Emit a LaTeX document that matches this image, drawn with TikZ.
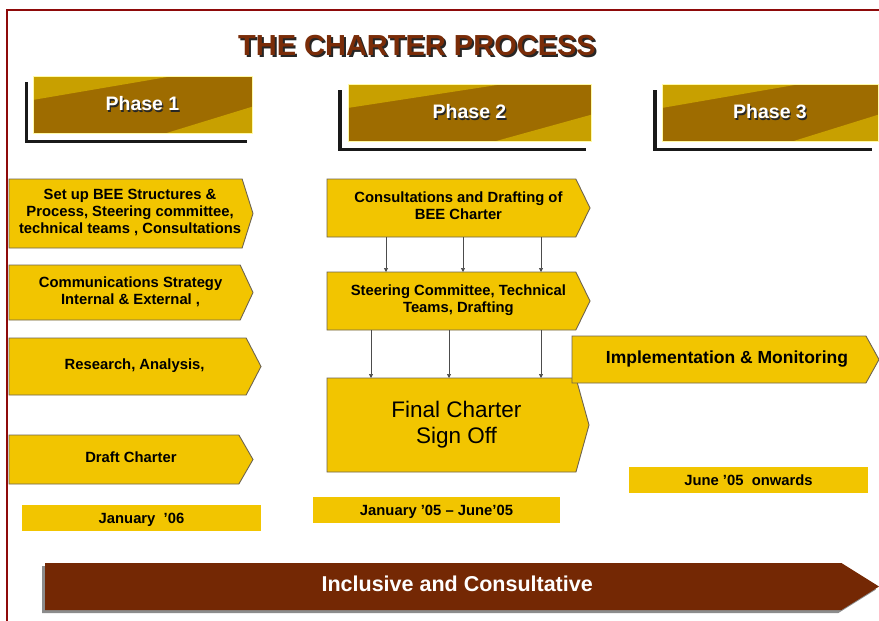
\documentclass[tikz,border=0pt]{standalone}
\usepackage{fontspec}
\setmainfont{Liberation Sans}
\usetikzlibrary{shapes.symbols,arrows.meta,calc,shadows}
\definecolor{chyellow}{HTML}{F2C500}
\definecolor{chedge}{HTML}{6E6450}
\definecolor{chbrown}{HTML}{742804}
\definecolor{chtitle}{HTML}{7A2C08}
\definecolor{chdark}{HTML}{9E6C00}
\definecolor{chlight}{HTML}{C8A000}
\definecolor{chframe}{HTML}{8E0A0A}
% text with a small dark copy under it
\newcommand{\dropshade}[2][1.2pt]{\makebox[0pt][l]{\raisebox{-#1}{\hspace{#1}\color{black!85}#2}}#2}
% centred lines, pushed right by the pointer length
\newcommand{\boxlines}[2]{\hspace*{#1}\raisebox{-2pt}{\begin{tabular}{@{}c@{}}#2\end{tabular}}}
\tikzset{
  stepsig/.style={shape=signal, signal to=east, fill=chyellow, draw=chedge, line width=0.9pt,
    inner sep=0pt, outer sep=0pt, anchor=west,
    font=\bfseries\fontsize{14.8}{17}\selectfont},
  datebar/.style={fill=chyellow, inner sep=0pt, outer sep=0pt, anchor=north west, text depth=0pt,
    font=\bfseries\fontsize{14.8}{16}\selectfont},
  conn/.style={draw=black!70, line width=0.7pt, -{Triangle[length=4pt,width=4pt]}},
  phasebox/.style={fill=chdark, draw=yellow!35, line width=0.6pt, anchor=north west,
    inner sep=0pt, outer sep=0pt, text=white, font=\bfseries\fontsize{19.5}{22}\selectfont,
    path picture={
      \fill[chlight] (path picture bounding box.north west)
        -- ($(path picture bounding box.north west)!0.64!(path picture bounding box.north east)$)
        -- ($(path picture bounding box.north west)!0.42!(path picture bounding box.south west)$) -- cycle;
      \fill[chlight] (path picture bounding box.south east)
        -- ($(path picture bounding box.south west)!0.61!(path picture bounding box.south east)$)
        -- ($(path picture bounding box.north east)!0.54!(path picture bounding box.south east)$) -- cycle;
    }},
  phaseshadow/.style={draw=black!90, line width=3.5pt}
}
\begin{document}
\begin{tikzpicture}[x=1pt,y=-1pt]
  \useasboundingbox[fill=white] (0,0) rectangle (879,621);
  \draw[chframe, line width=2pt] (7,621) -- (7,10) -- (879,10);

  % title
  \node[text=chtitle, font=\bfseries\fontsize{29}{32}\selectfont] (title) at (417,47) {\dropshade[2pt]{THE CHARTER PROCESS}};

  % phase headers
  \draw[phaseshadow] (26.5,82) -- (26.5,141.5) -- (247,141.5);
  \node[phasebox, minimum width=219pt, minimum height=57pt] (phaseone) at (33,76) {\dropshade{Phase 1}};
  \draw[phaseshadow] (340,90) -- (340,149.5) -- (586,149.5);
  \node[phasebox, minimum width=243pt, minimum height=57pt] (phasetwo) at (348,84) {\dropshade{Phase 2}};
  \draw[phaseshadow] (655,90) -- (655,149.5) -- (872,149.5);
  \node[phasebox, minimum width=216pt, minimum height=57pt] (phasethree) at (662,84) {\dropshade{Phase 3}};

  % phase 1
  \node[stepsig, minimum width=244pt, minimum height=69pt, signal pointer angle=145] (setup) at (9,213.5)
    {\boxlines{9pt}{Set up BEE Structures \&\\Process, Steering committee,\\technical teams , Consultations}};
  \node[stepsig, minimum width=244pt, minimum height=55pt, signal pointer angle=130] (comms) at (9,292.5)
    {\boxlines{12pt}{Communications Strategy\\Internal \& External ,}};
  \node[stepsig, minimum width=252pt, minimum height=57pt, signal pointer angle=125] (research) at (9,366.5)
    {\boxlines{14pt}{Research, Analysis,}};
  \node[stepsig, minimum width=244pt, minimum height=49pt, signal pointer angle=120] (draft) at (9,459.5)
    {\boxlines{14pt}{Draft Charter}};
  \node[datebar, minimum width=239pt, minimum height=26pt] (dateone) at (22,505) {January~ '06};

  % phase 2
  \node[stepsig, minimum width=263pt, minimum height=58pt, signal pointer angle=128] (consult) at (327,208)
    {\boxlines{14pt}{Consultations and Drafting of\\BEE Charter}};
  \node[stepsig, minimum width=263pt, minimum height=58pt, signal pointer angle=128] (steer) at (327,301)
    {\boxlines{14pt}{Steering Committee, Technical\\Teams, Drafting}};
  \node[stepsig, minimum width=262pt, minimum height=94pt, signal pointer angle=149,
    font=\fontsize{22.5}{26}\selectfont] (final) at (327,425) {\boxlines{10pt}{Final Charter\\Sign Off}};
  \node[datebar, minimum width=247pt, minimum height=26pt] (datetwo) at (313,497) {January '05 -- June'05};
  \foreach \x in {386,463,541}
    \draw[conn] (\x,0 |- consult.south) -- (\x,0 |- steer.north);
  \foreach \x in {371,449,541}
    \draw[conn] (\x,0 |- steer.south) -- (\x,0 |- final.north);

  % phase 3
  \node[stepsig, minimum width=307pt, minimum height=47pt, signal pointer angle=122,
    font=\bfseries\fontsize{17.5}{20}\selectfont] (impl) at (572,359.5) {\boxlines{16pt}{Implementation \& Monitoring}};
  \node[datebar, minimum width=239pt, minimum height=26pt] (datethree) at (629,467) {June '05~ onwards};

  % bottom band
  \node[stepsig, fill=chbrown, draw=none, text=white, minimum width=834pt, minimum height=47pt,
    signal pointer angle=64, font=\bfseries\fontsize{21.5}{24}\selectfont,
    drop shadow={shadow xshift=-3pt, shadow yshift=-3pt, fill=black!45, opacity=1}] (inclusive) at (45,586.5)
    {\boxlines{28pt}{Inclusive and Consultative}};
\end{tikzpicture}
\end{document}
